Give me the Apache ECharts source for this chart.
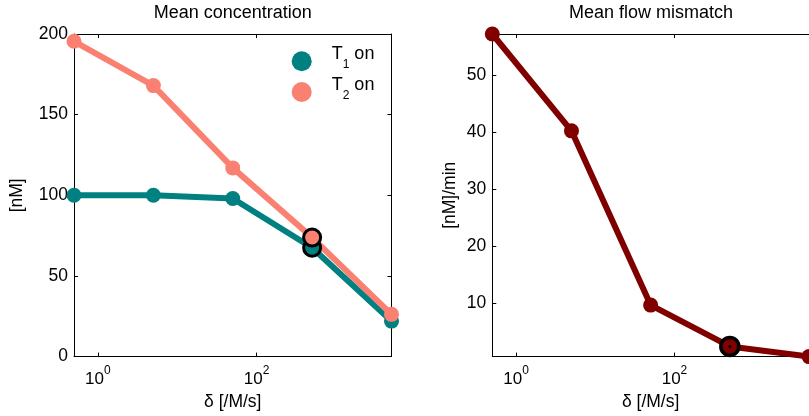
<!DOCTYPE html>
<html>
<head>
<meta charset="utf-8">
<script src="https://cdn.jsdelivr.net/npm/echarts@6/dist/echarts.min.js"></script>
<style>
html,body{margin:0;padding:0;background:#fff;}
#chart{width:809px;height:416px;}
</style>
</head>
<body>
<div id="chart"></div>
<script>
// ---- data ----
var deltaValues = [0.5, 5, 50, 500, 5000];
var t1OnConc = [100, 100, 98, 67.5, 22];
var t2OnConc = [195.5, 168, 117, 73.8, 26.2];
var flowMismatch = [57.3, 40.3, 9.7, 2.45, 0.66];
var highlightIndex = 3;
var xTickValues = [1, 100];
var leftYTicks = [0, 50, 100, 150, 200];
var rightYTicks = [10, 20, 30, 40, 50];
var seriesNames = ['T1 on', 'T2 on'];
var titles = ['Mean concentration', 'Mean flow mismatch'];
var xName = 'δ [/M/s]';
var yNames = ['[nM]', '[nM]/min'];

function pairs(xs, ys) { return xs.map(function (x, i) { return [x, ys[i]]; }); }

var FONT = "'Liberation Sans', Arial, Helvetica, sans-serif";
var TEAL = '#008080', SALMON = '#FA8072', DARKRED = '#800000';

var grids = [
  { left: 74, top: 34, width: 317.5, height: 323.5 },
  { left: 492.3, top: 34, width: 317.5, height: 323.5 }
];

function xAxisDef(gridIndex, pos) {
  var bottom = pos === 'bottom';
  return {
    type: 'log', logBase: 10, gridIndex: gridIndex, position: pos,
    min: deltaValues[0], max: deltaValues[deltaValues.length - 1],
    name: bottom ? xName : '', nameLocation: 'middle', nameGap: 33,
    nameTextStyle: { fontFamily: FONT, fontSize: 17.5, color: '#000' },
    axisLine: { show: true, onZero: false, lineStyle: { color: '#000', width: 1 } },
    axisTick: { show: true, inside: true, length: 4, customValues: xTickValues, lineStyle: { color: '#000' } },
    axisLabel: {
      show: bottom, customValues: xTickValues, margin: 8,
      formatter: function (v) { return '{b|10}{s|' + Math.round(Math.log10(v)) + '}'; },
      rich: {
        b: { fontFamily: FONT, fontSize: 17, color: '#000', verticalAlign: 'top', padding: [6.5, 0, 0, 0] },
        s: { fontFamily: FONT, fontSize: 12, color: '#000', verticalAlign: 'top' }
      }
    },
    splitLine: { show: false }, minorTick: { show: false }
  };
}

function yAxisDef(gridIndex, pos, ticks, mn, mx, name, gap) {
  var left = pos === 'left';
  return {
    type: 'value', gridIndex: gridIndex, position: pos, min: mn, max: mx,
    name: left ? name : '', nameLocation: 'middle', nameGap: gap, nameRotate: 90,
    nameTextStyle: { fontFamily: FONT, fontSize: 17.5, color: '#000' },
    axisLine: { show: true, onZero: false, lineStyle: { color: '#000', width: 1 } },
    axisTick: { show: true, inside: true, length: 4, customValues: ticks, lineStyle: { color: '#000' } },
    axisLabel: { show: left, customValues: ticks, margin: 6, fontFamily: FONT, fontSize: 17.5, color: '#000' },
    splitLine: { show: false }
  };
}

var option = {
  animation: false,
  backgroundColor: '#fff',
  title: [
    { text: titles[0], left: 232.7, top: 4, textAlign: 'center', padding: 0,
      textStyle: { fontFamily: FONT, fontSize: 18, fontWeight: 'normal', color: '#000' } },
    { text: titles[1], left: 651, top: 4, textAlign: 'center', padding: 0,
      textStyle: { fontFamily: FONT, fontSize: 18, fontWeight: 'normal', color: '#000' } }
  ],
  legend: {
    data: seriesNames, orient: 'vertical', left: 291.7, top: 45, padding: 0,
    itemWidth: 20, itemHeight: 20, itemGap: 4.5, icon: 'circle',
    formatter: function (name) {
      var idx = name.replace(/[^0-9]/g, '');
      return '{t0|T}{sub|' + idx + '}{t| on}';
    },
    textStyle: {
      rich: {
        t0: { fontFamily: FONT, fontSize: 18, color: '#000', verticalAlign: 'top', padding: [0, 0, 0, 15] },
        t: { fontFamily: FONT, fontSize: 18, color: '#000', verticalAlign: 'top' },
        sub: { fontFamily: FONT, fontSize: 12, color: '#000', verticalAlign: 'top', padding: [13.5, 0, 7, 0] }
      }
    }
  },
  grid: grids.map(function (g) {
    return { left: g.left, top: g.top, width: g.width, height: g.height, containLabel: false, show: false };
  }),
  xAxis: [xAxisDef(0, 'bottom'), xAxisDef(0, 'top'), xAxisDef(1, 'bottom'), xAxisDef(1, 'top')],
  yAxis: [
    yAxisDef(0, 'left', leftYTicks, 0, 200, yNames[0], 47.5),
    yAxisDef(0, 'right', leftYTicks, 0, 200, '', 0),
    yAxisDef(1, 'left', rightYTicks, 'dataMin', 'dataMax', yNames[1], 33),
    yAxisDef(1, 'right', rightYTicks, 'dataMin', 'dataMax', '', 0)
  ],
  series: [
    { name: seriesNames[0], type: 'line', xAxisIndex: 0, yAxisIndex: 0, data: pairs(deltaValues, t1OnConc),
      symbol: 'circle', symbolSize: 15, showSymbol: true, clip: false, z: 2,
      itemStyle: { color: TEAL }, lineStyle: { color: TEAL, width: 6 } },
    { name: seriesNames[1], type: 'line', xAxisIndex: 0, yAxisIndex: 0, data: pairs(deltaValues, t2OnConc),
      symbol: 'circle', symbolSize: 15, showSymbol: true, clip: false, z: 3,
      itemStyle: { color: SALMON }, lineStyle: { color: SALMON, width: 6 } },
    { name: 'hl1', type: 'scatter', xAxisIndex: 0, yAxisIndex: 0,
      data: [[deltaValues[highlightIndex], t1OnConc[highlightIndex]]],
      symbol: 'circle', symbolSize: 17, clip: false, z: 4,
      itemStyle: { color: TEAL, borderColor: '#000', borderWidth: 3, opacity: 1 } },
    { name: 'hl2', type: 'scatter', xAxisIndex: 0, yAxisIndex: 0,
      data: [[deltaValues[highlightIndex], t2OnConc[highlightIndex]]],
      symbol: 'circle', symbolSize: 17, clip: false, z: 5,
      itemStyle: { color: SALMON, borderColor: '#000', borderWidth: 3, opacity: 1 } },
    { name: 'mismatch', type: 'line', xAxisIndex: 2, yAxisIndex: 2, data: pairs(deltaValues, flowMismatch),
      symbol: 'circle', symbolSize: 15, showSymbol: true, clip: false, z: 2,
      itemStyle: { color: DARKRED }, lineStyle: { color: DARKRED, width: 6 } },
    { name: 'hl3', type: 'scatter', xAxisIndex: 2, yAxisIndex: 2,
      data: [[deltaValues[highlightIndex], flowMismatch[highlightIndex]]],
      symbol: 'circle', symbolSize: 18, clip: false, z: 4,
      itemStyle: { color: DARKRED, borderColor: '#000', borderWidth: 3.5, opacity: 1 } },
    { name: 'hl3dot', type: 'scatter', xAxisIndex: 2, yAxisIndex: 2,
      data: [[deltaValues[highlightIndex], flowMismatch[highlightIndex]]],
      symbol: 'circle', symbolSize: 3, clip: false, z: 5,
      itemStyle: { color: '#000', opacity: 1 } }
  ]
};

var chart = echarts.init(document.getElementById('chart'), null, { renderer: 'canvas' });
chart.setOption(option);
</script>
</body>
</html>
